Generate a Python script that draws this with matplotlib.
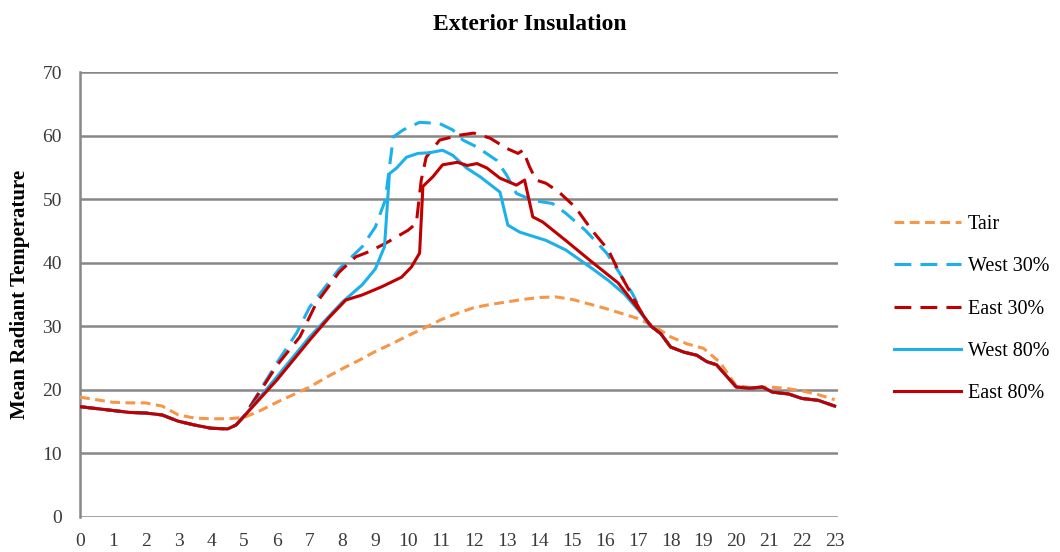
import numpy as np
import matplotlib
matplotlib.use("Agg")
import matplotlib.pyplot as plt

# hourly data (hours 0-23)
tair_h = np.arange(0, 23.5, 0.5)
tair_v = [18.8, 18.4, 18.0, 17.9, 17.9, 17.4, 16.0, 15.5, 15.4, 15.4,
          15.6, 16.7, 18.0, 19.2, 20.4, 21.9, 23.3, 24.6, 26.0, 27.2,
          28.5, 29.7, 31.0, 32.0, 32.9, 33.4, 33.8, 34.2, 34.5, 34.6,
          34.2, 33.5, 32.8, 32.0, 31.2, 30.0, 28.3, 27.2, 26.5, 24.3,
          20.6, 20.3, 20.4, 20.2, 19.8, 19.2, 18.4]

# night parts are shared by the four cases
am_h = [0, 0.5, 1, 1.5, 2, 2.5, 3, 3.5, 4, 4.5, 4.75, 5]
am_v = [17.3, 17.0, 16.7, 16.4, 16.3, 16.0, 15.0, 14.4, 13.9, 13.8, 14.4, 15.8]
pm_h = [17.4, 17.7, 18.0, 18.4, 18.8, 19.1, 19.4, 20.0, 20.4, 20.8, 21.1, 21.6, 22.0, 22.5, 23.0]
pm_v = [30.0, 28.8, 26.7, 25.9, 25.4, 24.4, 23.9, 20.4, 20.2, 20.4, 19.6, 19.3, 18.6, 18.3, 17.4]

w30_h = [6.0, 6.6, 7.0, 7.9, 8.6, 9.0, 9.3, 9.55, 9.85, 10.35, 10.96, 11.36, 11.67, 12.1,
         12.7, 13.0, 13.3, 13.8, 14.4, 14.8, 15.4, 16.05, 16.45, 16.85, 17.2]
w30_v = [24.2, 28.9, 33.0, 39.0, 42.5, 45.6, 49.8, 59.8, 60.9, 62.1, 61.9, 60.9, 59.3, 58.2,
         56.1, 53.8, 50.9, 49.8, 49.3, 47.8, 45.1, 41.5, 38.3, 35.0, 31.3]

e30_h = [6.0, 6.7, 7.2, 7.9, 8.4, 8.8, 9.3, 10.0, 10.25, 10.4, 10.55, 10.96, 11.6, 12.0,
         12.5, 13.0, 13.35, 13.5, 13.7, 13.9, 14.2, 14.6, 15.1, 15.6, 16.1, 16.45, 16.85, 17.2]
e30_v = [23.8, 28.3, 33.6, 38.5, 40.9, 41.7, 43.0, 45.1, 46.2, 53.0, 56.6, 59.3, 60.1, 60.4,
         59.6, 58.0, 57.2, 57.7, 55.1, 53.0, 52.5, 51.1, 48.7, 45.1, 42.0, 38.3, 34.6, 31.3]

w80_h = [6.0, 7.0, 8.0, 8.6, 9.0, 9.28, 9.43, 9.65, 9.95, 10.3, 10.65, 11.05, 11.36, 11.78,
         12.2, 12.8, 13.04, 13.4, 14.2, 14.8, 15.6, 16.1, 16.6, 17.05]
w80_v = [22.0, 28.3, 33.8, 36.5, 39.0, 42.5, 54.0, 54.9, 56.6, 57.2, 57.3, 57.7, 56.9, 54.9,
         53.5, 51.1, 45.9, 44.8, 43.5, 42.0, 39.1, 37.2, 35.0, 32.3]

e80_h = [6.0, 7.0, 7.6, 8.1, 8.6, 9.2, 9.8, 10.1, 10.35, 10.45, 10.75, 11.05, 11.5, 11.8,
         12.1, 12.4, 12.8, 13.3, 13.55, 13.8, 14.1, 14.8, 15.6, 16.4, 17.05]
e80_v = [21.5, 27.8, 31.4, 34.1, 34.9, 36.2, 37.7, 39.3, 41.5, 52.0, 53.5, 55.4, 55.8, 55.3,
         55.6, 54.9, 53.3, 52.2, 53.0, 47.2, 46.4, 43.5, 40.1, 36.8, 32.5]

labels = ["Tair", "West 30%", "East 30%", "West 80%", "East 80%"]
orange = "#F79646"
blue = "#1CB0EC"
red = "#C00000"

plt.rcParams["font.family"] = ["Liberation Serif", "DejaVu Serif"]

fig = plt.figure(figsize=(10.6, 5.52), dpi=100)
ax = fig.add_axes([0.0755, 0.0643, 0.715, 0.805])

def full(mid_h, mid_v):
    return am_h + mid_h + pm_h, am_v + mid_v + pm_v

ax.plot(tair_h, tair_v, color=orange, lw=2.2, dashes=(3.2, 1.8), label=labels[0], zorder=3)
x, y = full(w30_h, w30_v)
ax.plot(x, y, color=blue, lw=2.2, dashes=(5.5, 3), label=labels[1], zorder=4)
x, y = full(e30_h, e30_v)
ax.plot(x, y, color=red, lw=2.2, dashes=(5.5, 3), label=labels[2], zorder=5)
x, y = full(w80_h, w80_v)
ax.plot(x, y, color=blue, lw=2.2, label=labels[3], zorder=6)
x, y = full(e80_h, e80_v)
ax.plot(x, y, color=red, lw=2.2, label=labels[4], zorder=7)

ax.set_xlim(0, 23.1)
ax.set_ylim(0, 70)
ax.set_xticks(range(0, 24))
ax.set_yticks(range(0, 71, 10))
ax.tick_params(length=0, labelsize=14, labelcolor="#3a3a3a")
ax.tick_params(axis="y", pad=13)
ax.tick_params(axis="x", pad=12)
ax.grid(axis="y", color="#878787", lw=1.8)
ax.set_axisbelow(True)
for s in ["top", "right", "bottom"]:
    ax.spines[s].set_visible(False)
ax.spines["left"].set_color("#878787")
ax.spines["left"].set_linewidth(1.8)

ax.set_ylabel("Mean Radiant Temperature", fontsize=15, fontweight="bold", labelpad=9)
fig.suptitle("Exterior Insulation", fontsize=17, fontweight="bold", x=0.5, y=0.975)

ax.legend(loc="upper left", bbox_to_anchor=(0.836, 0.625), bbox_transform=fig.transFigure,
          frameon=False, fontsize=14.5, handlelength=3.3, handletextpad=0.35,
          labelspacing=1.15, borderaxespad=0)

fig.savefig("out.png", dpi=100)
